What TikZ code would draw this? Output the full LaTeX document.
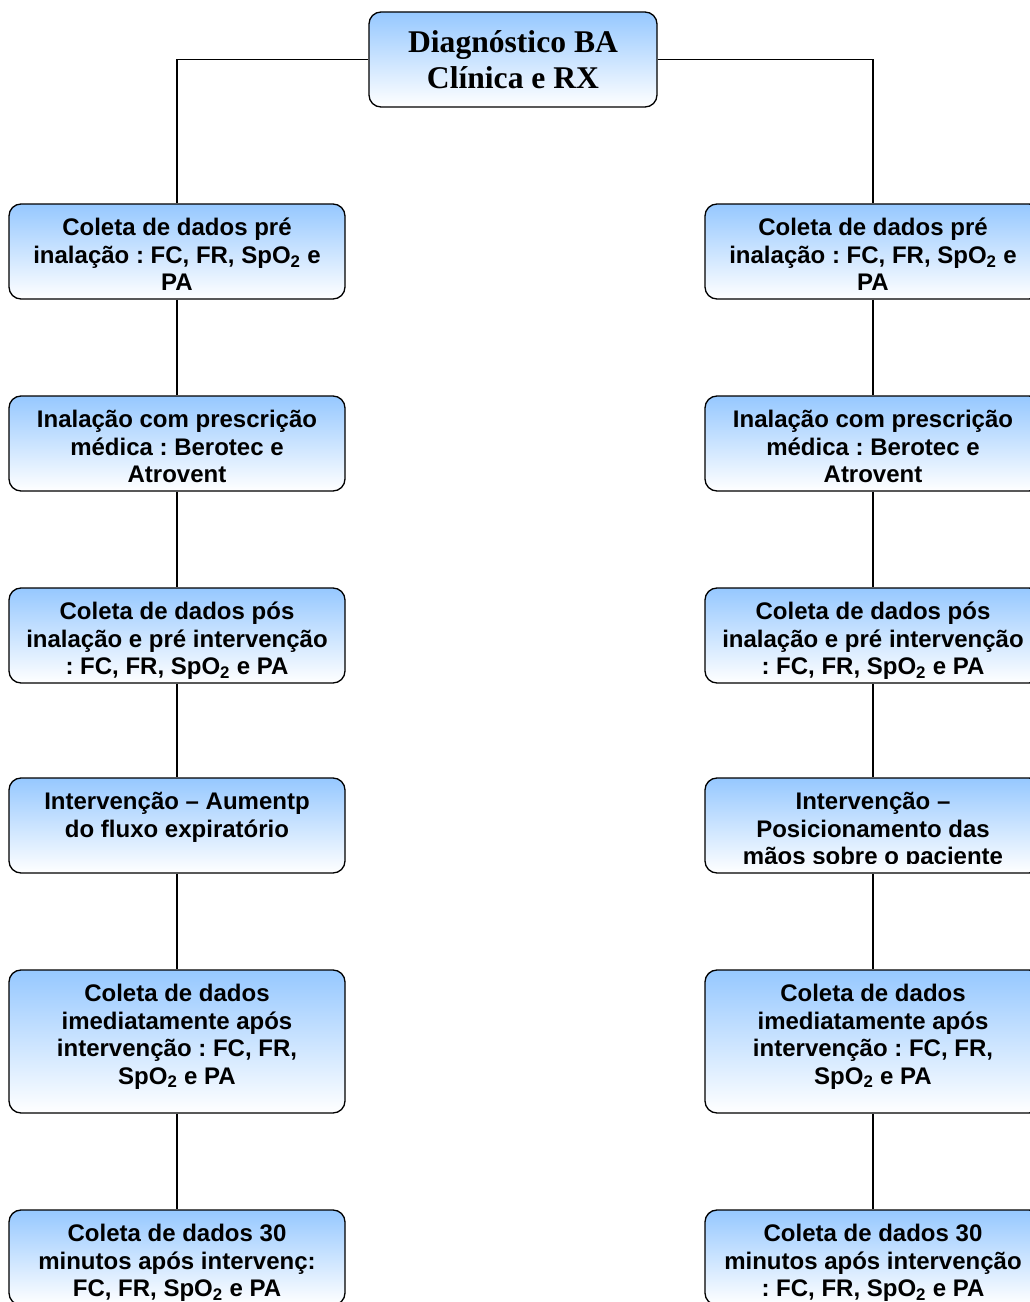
\documentclass[tikz,border=0pt]{standalone}
\usepackage{fontspec}
\setmainfont{Liberation Sans}
\newfontfamily\titlefont{Liberation Serif}
\usetikzlibrary{positioning}
\definecolor{boxblue}{RGB}{150,200,255}
\frenchspacing

\begin{document}
\begin{tikzpicture}[x=0.75pt, y=-0.75pt,
  box/.style={draw=black, line width=1pt, rounded corners=9pt, top color=boxblue, bottom color=white,
    minimum width=252pt, minimum height=71.25pt, inner sep=0pt},
  tallbox/.style={box, minimum height=107.25pt},
  txt/.style={anchor=north, align=center, inner sep=0pt, yshift=-11pt,
    font=\bfseries\fontsize{18}{20.6}\selectfont},
  link/.style={line width=1pt}]
\useasboundingbox (0,0) rectangle (1030,1302);
\clip (0,0) rectangle (1030,1302);

% Diagnosis
\node[box, minimum width=216pt, align=center,
  font=\titlefont\bfseries\fontsize{23.7}{27.3}\selectfont] (diag) at (513,59.5)
  {Diagnóstico BA\\Clínica e RX};

% Left column
\node[box] (l1) at (177,251.5) {};
\node[txt] (l1t) at (l1.north) {Coleta de dados pré\\inalação : FC, FR, SpO\textsubscript{2} e\\PA};
\node[box] (l2) at (177,443.5) {};
\node[txt] (l2t) at (l2.north) {Inalação com prescrição\\médica : Berotec e\\Atrovent};
\node[box] (l3) at (177,635.5) {};
\node[txt] (l3t) at (l3.north) {Coleta de dados pós\\inalação e pré intervenção\\: FC, FR, SpO\textsubscript{2} e PA};
\node[box] (l4) at (177,825.5) {};
\node[txt] (l4t) at (l4.north) {Intervenção – Aumentp\\do fluxo expiratório};
\node[tallbox] (l5) at (177,1041.5) {};
\node[txt] (l5t) at (l5.north) {Coleta de dados\\imediatamente após\\intervenção : FC, FR,\\SpO\textsubscript{2} e PA};
\node[box] (l6) at (177,1257.5) {};
\node[txt] (l6t) at (l6.north) {Coleta de dados 30\\minutos após intervenç:\\FC, FR, SpO\textsubscript{2} e PA};

% Right column
\node[box] (r1) at (873,251.5) {};
\node[txt] (r1t) at (r1.north) {Coleta de dados pré\\inalação : FC, FR, SpO\textsubscript{2} e\\PA};
\node[box] (r2) at (873,443.5) {};
\node[txt] (r2t) at (r2.north) {Inalação com prescrição\\médica : Berotec e\\Atrovent};
\node[box] (r3) at (873,635.5) {};
\node[txt] (r3t) at (r3.north) {Coleta de dados pós\\inalação e pré intervenção\\: FC, FR, SpO\textsubscript{2} e PA};
\node[box] (r4) at (873,825.5) {};
\begin{scope}
  % text frame cuts the last line
  \clip (r4.north west) rectangle ([yshift=7.5pt]r4.south east);
  \node[txt] (r4t) at (r4.north) {Intervenção –\\Posicionamento das\\mãos sobre o paciente};
\end{scope}
\node[tallbox] (r5) at (873,1041.5) {};
\node[txt] (r5t) at (r5.north) {Coleta de dados\\imediatamente após\\intervenção : FC, FR,\\SpO\textsubscript{2} e PA};
\node[box] (r6) at (873,1257.5) {};
\node[txt] (r6t) at (r6.north) {Coleta de dados 30\\minutos após intervenção\\: FC, FR, SpO\textsubscript{2} e PA};

% Connectors
\draw[link] (diag.west) -| (l1.north);
\draw[link] (diag.east) -| (r1.north);
\foreach \a/\b in {1/2, 2/3, 3/4, 4/5, 5/6} {
  \draw[link] (l\a.south) -- (l\b.north);
  \draw[link] (r\a.south) -- (r\b.north);
}
\end{tikzpicture}
\end{document}
